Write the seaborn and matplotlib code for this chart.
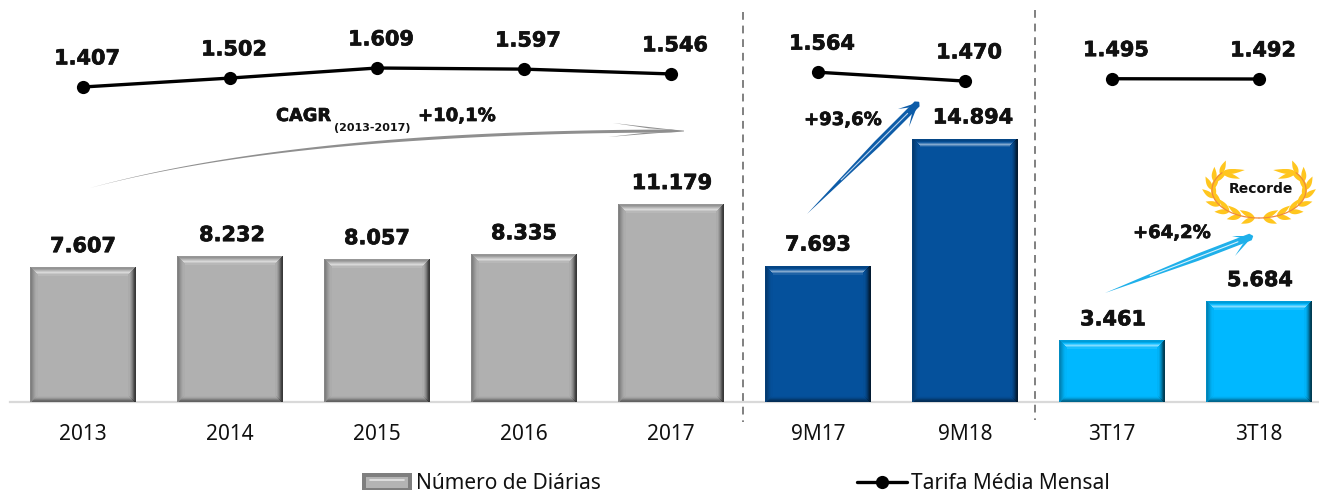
import numpy as np
import pandas as pd
import seaborn as sns
import matplotlib
matplotlib.use("Agg")
import matplotlib.pyplot as plt
import matplotlib.patheffects as pe
from matplotlib.patches import Polygon, Rectangle
from matplotlib.lines import Line2D
from matplotlib.legend_handler import HandlerBase
from matplotlib.transforms import Affine2D

categories = ["2013", "2014", "2015", "2016", "2017", "9M17", "9M18", "3T17", "3T18"]
diarias = [7607, 8232, 8057, 8335, 11179, 7693, 14894, 3461, 5684]
diarias_labels = ["7.607", "8.232", "8.057", "8.335", "11.179", "7.693", "14.894", "3.461", "5.684"]
tarifa = [1407, 1502, 1609, 1597, 1546, 1564, 1470, 1495, 1492]
tarifa_labels = ["1.407", "1.502", "1.609", "1.597", "1.546", "1.564", "1.470", "1.495", "1.492"]
segments = ["anual"] * 5 + ["9M"] * 2 + ["3T"] * 2

GREY, BLUE, CYAN = "#b0b0b0", "#05519c", "#00b8ff"
bar_colors = [GREY] * 5 + [BLUE] * 2 + [CYAN] * 2

W, H = 1319, 493
sns.set_theme(style="white")
plt.rcParams["font.family"] = ["DejaVu Sans"]
fig = plt.figure(figsize=(W / 100, H / 100), dpi=100)
ax = fig.add_axes([0, 0, 1, 1])
ax.patch.set_alpha(0)
PX = Affine2D().scale(1, -1).translate(0, H)   # top-left pixel frame for decoration
HEAVY = [pe.withStroke(linewidth=0.5, foreground="#111111")]

df = pd.DataFrame({"cat": categories, "diarias": diarias, "tarifa": tarifa,
                   "pos": range(len(categories)), "seg": segments})
sns.barplot(data=df, x="cat", y="diarias", hue="cat", palette=bar_colors, saturation=1,
            width=0.718, legend=False, ax=ax, zorder=2)

STEP, X0, Y0 = 147.0, 83.0, 402.0
ax.set_xlim(-X0 / STEP, (W - X0) / STEP)
SC = 263 / 14894
ax.set_ylim(-(H - Y0) / SC, Y0 / SC)
ax.set_xlabel(""); ax.set_ylabel(""); ax.set_yticks([])
for s in ["top", "left", "right"]:
    ax.spines[s].set_visible(False)
sp = ax.spines["bottom"]
sp.set_position(("data", 0)); sp.set_color("#d9d9d9"); sp.set_linewidth(1.6)
sp.set_bounds((10 - X0) / STEP, (W - X0) / STEP)
ax.tick_params(axis="x", length=0, pad=16, labelsize=15, labelcolor="#111111")
for t in ax.get_xticklabels():
    t.set_fontfamily("Noto Sans")


def shade(c, f):
    rgb = np.array(matplotlib.colors.to_rgb(c))
    return tuple(rgb * f if f <= 1 else rgb + (1 - rgb) * (f - 1))


def bevel(target, x0, y0, x1, y1, color, top, left, right, bottom):
    """Nested one-pixel strips: each side list runs from the outer edge inwards."""
    def strip(i_, fac, side):
        a, b = i_, i_ + 1
        if side == "t":
            pts = [(x0 + a, y0 + a), (x1 - a, y0 + a), (x1 - b, y0 + b), (x0 + b, y0 + b)]
        elif side == "b":
            pts = [(x0 + a, y1 - a), (x1 - a, y1 - a), (x1 - b, y1 - b), (x0 + b, y1 - b)]
        elif side == "l":
            pts = [(x0 + a, y0 + a), (x0 + a, y1 - a), (x0 + b, y1 - b), (x0 + b, y0 + b)]
        else:
            pts = [(x1 - a, y0 + a), (x1 - a, y1 - a), (x1 - b, y1 - b), (x1 - b, y0 + b)]
        target.add_patch(Polygon(pts, closed=True, transform=PX, fc=shade(color, fac), ec="#00000000",
                                 lw=0, zorder=3, clip_on=False, antialiased=False))
    for side, facs in (("t", top), ("b", bottom), ("l", left), ("r", right)):
        for i_, f in enumerate(facs):
            strip(i_, f, side)


TOP = [0.86, 0.84, 0.92, 1.08, 1.3, 1.5, 1.3, 1.1]
LEFT = [0.76, 0.72, 0.78, 0.84, 0.9, 0.95, 0.98]
RIGHT = [0.32, 0.38, 0.52, 0.68, 0.8, 0.9, 0.97]
BOTTOM = [0.55, 0.6, 0.72, 0.84, 0.93, 0.98]
bars = sorted([p for p in ax.patches if isinstance(p, Rectangle)], key=lambda p: p.get_x())
fig.canvas.draw()
for p, c in zip(bars, bar_colors):
    (xa, ya), (xb, yb) = ax.transData.transform([(p.get_x(), p.get_height()),
                                                 (p.get_x() + p.get_width(), 0)])
    bevel(ax, xa, H - ya, xb, H - yb, c, TOP, LEFT, RIGHT, BOTTOM)

label_dx = [0, 2, 0, 0, 1, 0, 8, 1, 1]
for i, (v, lab) in enumerate(zip(diarias, diarias_labels)):
    ax.annotate(lab, (i, v), xytext=(label_dx[i] * 0.72, 15.5), textcoords="offset points",
                ha="center", va="center", fontsize=15, fontweight="bold", color="#111111", zorder=6,
                path_effects=HEAVY)

# second scale for the line
ax2 = ax.twinx()
ax2.patch.set_alpha(0)
LS = 0.094
ax2.set_ylim(1407 - (H - 87) / LS, 1407 + 87 / LS)
ax2.set_yticks([])
for s in ax2.spines.values():
    s.set_visible(False)
sns.lineplot(data=df, x="pos", y="tarifa", hue="seg", palette=["black"] * 3, legend=False, ax=ax2,
             marker="o", markersize=9.5, markeredgewidth=0, linewidth=2.4, errorbar=None, sort=False)
ax2.set_xlabel(""); ax2.set_ylabel("")
ax2.set_xlim(ax.get_xlim())
for i, (v, lab) in enumerate(zip(tarifa, tarifa_labels)):
    ax2.annotate(lab, (i, v), xytext=(2.9, 20.6), textcoords="offset points", ha="center", va="center",
                 fontsize=15, fontweight="bold", color="#111111", path_effects=HEAVY)

# separators
for x, y0_, y1_ in ((743, 12, 422), (1035, 10, 420)):
    ax2.add_line(Line2D([x, x], [y0_, y1_], transform=PX, color="#808080", lw=1.4,
                        dashes=(4, 3), clip_on=False))


def arrow(points, barb1, barb2, color, width, notch, highlight=None):
    pts = np.array(points, float)
    d = np.gradient(pts, axis=0)
    n = np.column_stack([-d[:, 1], d[:, 0]])
    n /= np.linalg.norm(n, axis=1, keepdims=True)
    frac = np.linspace(0, 1, len(pts))
    w = width * np.minimum(frac * 1.6, 1)[:, None] / 2
    w[-1] = 0.4
    body = np.vstack([pts + n * w, (pts - n * w)[::-1]])
    ax2.add_patch(Polygon(body, closed=True, transform=PX, fc=color, ec="none", zorder=4))
    tip = pts[-1]
    along = (pts[-1] - pts[-4]) / np.linalg.norm(pts[-1] - pts[-4])
    for b in (barb1, barb2):
        b = np.array(b, float)
        mid = tip * 0.5 + b * 0.5
        to_axis = (tip - along * np.dot(tip - mid, along)) - mid
        to_axis = to_axis / np.linalg.norm(to_axis)
        mid = mid + to_axis * notch
        ax2.add_patch(Polygon([tip, b, mid], closed=True, transform=PX, fc=color, ec="none", zorder=4))
    if highlight:
        sel = (frac > 0.3) & (frac < 0.9)
        ax2.add_line(Line2D(pts[sel, 0], pts[sel, 1], transform=PX, color=highlight, lw=0.8, zorder=5))


t = np.linspace(0, 1, 60)[:, None]
line = lambda a, b: np.array(a) * (1 - t) + np.array(b) * t
P0, P1, P2 = np.array([90, 188.]), np.array([300, 131.]), np.array([684, 131.])
arrow((1 - t) ** 2 * P0 + 2 * t * (1 - t) * P1 + t ** 2 * P2, (613, 123), (608, 137), "#8f8f8f", 3.0, 1.3)
arrow(line((807, 214), (919, 102)), (898, 109), (909, 127), "#0d5ca8", 7, 2.6, "#bcd4ec")
arrow(line((1105, 293), (1253, 236)), (1232, 236), (1235, 256), "#1fb0ea", 7, 2.6, "#d5f1fd")

# text around the arrows
T = dict(transform=PX, va="center", fontweight="bold", color="#111111", zorder=7)
ax2.text(276, 116, "CAGR", fontsize=12.8, ha="left", path_effects=HEAVY, **T)
ax2.text(334, 128, "(2013-2017)", fontsize=8, ha="left", **T)
ax2.text(418, 116, "+10,1%", fontsize=13, ha="left", path_effects=HEAVY, **T)
ax2.text(804, 120, "+93,6%", fontsize=13, ha="left", path_effects=HEAVY, **T)
ax2.text(1133, 233, "+64,2%", fontsize=13, ha="left", path_effects=HEAVY, **T)

# laurel wreath
cx, cy, rx, ry = 1259.0, 190.0, 47.0, 28.0


def leaf(base, dirv, ln, wd):
    nrm = np.array([-dirv[1], dirv[0]])
    u = np.linspace(0, 1, 12)[:, None]
    axis = base + dirv * ln * u
    half = wd * np.sin(np.pi * u ** 0.8)
    return Polygon(np.vstack([axis + nrm * half, (axis - nrm * half)[::-1]]), closed=True,
                   transform=PX, fc="#ffc61e", ec="none", zorder=3.5)


for s_ in (-1, 1):
    th = np.radians(np.linspace(0, 128, 40))
    ax2.add_line(Line2D(cx + s_ * rx * np.sin(th), cy + ry * np.cos(th), transform=PX,
                        color="#f08a3c", lw=0.9, zorder=4))
    for deg in np.arange(5, 125, 17):
        a = np.radians(deg)
        base = np.array([cx + s_ * rx * np.sin(a), cy + ry * np.cos(a)])
        tan = np.array([s_ * rx * np.cos(a), -ry * np.sin(a)])
        tan /= np.linalg.norm(tan)
        for turn, ln in ((0.45, 15), (-0.42, 17)):
            c_, s2 = np.cos(turn * s_), np.sin(turn * s_)
            ax2.add_patch(leaf(base, np.array([tan[0] * c_ - tan[1] * s2, tan[0] * s2 + tan[1] * c_]), ln, 2.5))
    end = np.array([cx + s_ * rx * np.sin(th[-1]), cy + ry * np.cos(th[-1])])
    for ang, ln in ((-0.12, 23), (0.32, 19)):
        dv = np.array([-s_ * np.cos(ang), np.sin(ang)])
        ax2.add_patch(leaf(end, dv, ln, 2.3))
ax2.text(1261, 189, "Recorde", fontsize=10, ha="center", **T)


class BevelHandle(HandlerBase):
    def create_artists(self, legend, orig, xd, yd, width, height, fontsize, trans):
        outer = Rectangle((-xd, -yd - 1), width, height + 2, fc="#7f7f7f", ec="none", transform=trans)
        inner = Rectangle((-xd + 3, -yd + 1), width - 6, height - 2.5, fc="#b4b4b4", ec="none", transform=trans)
        hi = Line2D([-xd + 6, -xd + width - 6], [-yd + height * 0.6] * 2, color="#e6e6e6", lw=1.2, transform=trans)
        return [outer, inner, hi]


h1 = Rectangle((0, 0), 1, 1)
h2 = Line2D([], [], color="black", lw=2.4, marker="o", markersize=9.5, markeredgewidth=0)
fig.legend([h1, h2], ["Número de Diárias", "Tarifa Média Mensal"], ncol=2, frameon=False,
           loc="center", bbox_to_anchor=(736 / W, 1 - 483.5 / H), handler_map={Rectangle: BevelHandle()},
           prop={"family": "Noto Sans", "size": 15}, labelcolor="#111111",
           handlelength=2.4, handletextpad=0.2, columnspacing=12.3, borderpad=0, borderaxespad=0)

fig.savefig("out.png", dpi=100, facecolor="white")
